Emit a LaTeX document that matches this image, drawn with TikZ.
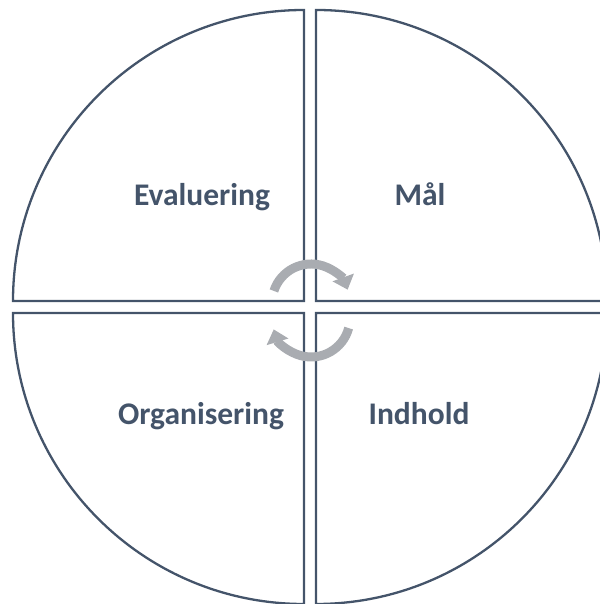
\documentclass[tikz,border=0pt]{standalone}
\usepackage{fontspec}
\setmainfont{Carlito}
\usetikzlibrary{arrows.meta}

\definecolor{slate}{HTML}{44546A}
\definecolor{turngray}{HTML}{A9ACB1}

\begin{document}
\begin{tikzpicture}[
  x=1pt, y=1pt,
  quad/.style={draw=slate, line width=2.3pt, line join=miter},
  lbl/.style={text=slate, font=\fontsize{31.5}{36}\selectfont\bfseries, anchor=base},
  turn/.style={draw=turngray, line width=9pt, -{Triangle[width=22pt,length=13pt]}},
]

\useasboundingbox (0,0) rectangle (599,604);

% the four quarters
\draw [quad] (304,303) -- ++(-291,0) arc [start angle=180, end angle=90, radius=291pt] -- cycle;
\draw [quad] (316,303) -- ++(0,291) arc [start angle=90, end angle=0, radius=291pt] -- cycle;
\draw [quad] (304,291) -- ++(-291,0) arc [start angle=180, end angle=270, radius=291pt] -- cycle;
\draw [quad] (316,291) -- ++(0,-291) arc [start angle=270, end angle=360, radius=291pt] -- cycle;

\node [lbl] (eval) at (202,398) {Evaluering};
\node [lbl] (maal) at (420,398) {Mål};
\node [lbl] (org) at (201,179) {Organisering};
\node [lbl] (indhold) at (419,179) {Indhold};

% cycle arrows
\draw [turn] (311,301) ++(162:39pt) arc [start angle=162, end angle=20, radius=39pt];
\draw [turn] (311,286) ++(-15:39pt) arc [start angle=-15, end angle=-163, radius=39pt];

\end{tikzpicture}
\end{document}
